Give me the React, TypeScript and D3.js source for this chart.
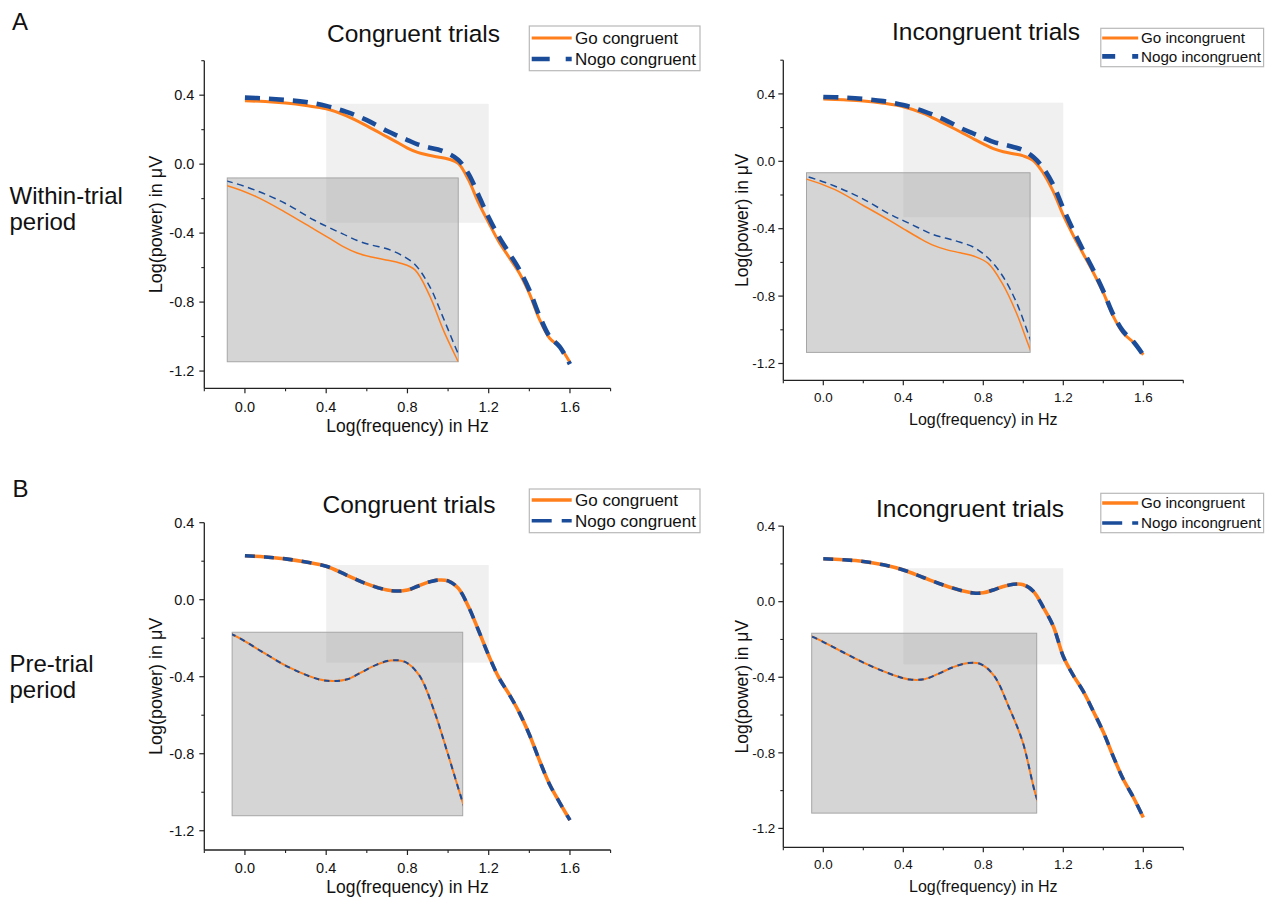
import React from "react";
import * as d3 from "d3";

// ---------------- DATA ----------------
const freqs = [0, 0.1, 0.2, 0.3, 0.4, 0.5, 0.6, 0.7, 0.75, 0.8, 0.85, 0.9, 0.95, 1.0, 1.05, 1.1, 1.15, 1.2, 1.25, 1.3, 1.35, 1.4, 1.45, 1.5, 1.55, 1.6];

const goCongWithin = [0.367, 0.363, 0.354, 0.34, 0.321, 0.28, 0.222, 0.158, 0.126, 0.093, 0.068, 0.053, 0.042, 0.03, 0.005, -0.09, -0.225, -0.34, -0.45, -0.54, -0.63, -0.75, -0.9, -1.01, -1.06, -1.15];
const nogoCongWithin = [0.386, 0.381, 0.372, 0.36, 0.338, 0.303, 0.255, 0.192, 0.165, 0.14, 0.115, 0.098, 0.085, 0.062, 0.025, -0.055, -0.18, -0.31, -0.42, -0.515, -0.61, -0.73, -0.88, -1.0, -1.06, -1.16];

const goIncWithin = [0.37, 0.365, 0.358, 0.345, 0.324, 0.285, 0.226, 0.166, 0.134, 0.103, 0.075, 0.057, 0.045, 0.032, 0.005, -0.07, -0.18, -0.32, -0.44, -0.55, -0.66, -0.78, -0.92, -1.02, -1.075, -1.148];
const nogoIncWithin = [0.382, 0.378, 0.37, 0.357, 0.334, 0.298, 0.25, 0.19, 0.165, 0.14, 0.115, 0.1, 0.085, 0.065, 0.025, -0.04, -0.14, -0.28, -0.41, -0.53, -0.645, -0.77, -0.91, -1.01, -1.07, -1.15];

const goCongPre = [0.228, 0.222, 0.212, 0.196, 0.174, 0.128, 0.082, 0.05, 0.045, 0.05, 0.07, 0.09, 0.102, 0.098, 0.06, -0.035, -0.16, -0.29, -0.405, -0.49, -0.585, -0.7, -0.835, -0.96, -1.055, -1.145];
const nogoCongPre = [0.228, 0.222, 0.212, 0.196, 0.174, 0.128, 0.082, 0.05, 0.045, 0.05, 0.07, 0.09, 0.102, 0.098, 0.06, -0.035, -0.16, -0.29, -0.405, -0.49, -0.585, -0.7, -0.835, -0.96, -1.055, -1.145];

const goIncPre = [0.227, 0.222, 0.213, 0.195, 0.168, 0.128, 0.088, 0.056, 0.046, 0.047, 0.062, 0.08, 0.092, 0.09, 0.055, -0.03, -0.13, -0.29, -0.39, -0.475, -0.58, -0.69, -0.82, -0.94, -1.035, -1.142];
const nogoIncPre = [0.227, 0.222, 0.213, 0.195, 0.168, 0.128, 0.088, 0.056, 0.046, 0.047, 0.062, 0.08, 0.092, 0.09, 0.055, -0.03, -0.13, -0.29, -0.39, -0.475, -0.58, -0.69, -0.82, -0.94, -1.035, -1.142];

const xMajorTicks = [0, 0.4, 0.8, 1.2, 1.6];
const xMinorTicks = [-0.2, 0.2, 0.6, 1.0, 1.4, 1.8];
const yMajorTicks = [0.4, 0, -0.4, -0.8, -1.2];
const yMinorTicksWithin = [0.6, 0.2, -0.2, -0.6, -1.0];
const yMinorTicksPre = [0.2, -0.2, -0.6, -1.0];

const xDomain = [-0.2, 1.8];
const yDomainWithin = [-1.3, 0.6];
const yDomainPre = [-1.3, 0.4];
const zoomXRange = [0.4, 1.2];

const titles = ["Congruent trials", "Incongruent trials", "Congruent trials", "Incongruent trials"];
const legendGo = ["Go congruent", "Go incongruent", "Go congruent", "Go incongruent"];
const legendNogo = ["Nogo congruent", "Nogo incongruent", "Nogo congruent", "Nogo incongruent"];
const xAxisTitle = "Log(frequency) in Hz";
const yAxisTitle = "Log(power) in μV";

// ---------------- STYLE ----------------
const ORANGE = "#FF7F1C";
const BLUE = "#1A4C9A";
const FONT = "'Liberation Sans', Arial, Helvetica, sans-serif";

type Cfg = {
  go: number[];
  nogo: number[];
  title: string;
  legGo: string;
  legNogo: string;
  left: number; right: number; top: number; bottom: number;
  yDomain: number[];
  yMinor: number[];
  zoomY: number[];
  insetX: number[];
  insetY: number[];
  titleX: number; titleY: number; titleSize: number;
  leg: { x: number; y: number; w: number; h: number; font: number; rows: number[]; lx1: number; lx2: number; tx: number; dash: string };
  tickFont: number; tickGap: number; tickOff: number;
  xLabFont: number; xLabOff: number; yLabFont: number; yLabX: number;
  goW: number; nogoW: number; nogoDash: string; inW: number; inDash: string;
  id: string;
};

const fmt = (v: number) => (Math.abs(v) < 1e-9 ? "0.0" : v.toFixed(1));

function Panel({ c }: { c: Cfg }) {
  const x = d3.scaleLinear().domain(xDomain).range([c.left, c.right]);
  const y = d3.scaleLinear().domain(c.yDomain).range([c.bottom, c.top]);
  const ix = d3.scaleLinear().domain(zoomXRange).range([x(c.insetX[0]), x(c.insetX[1])]);
  const iy = d3.scaleLinear().domain(c.zoomY).range([y(c.insetY[0]), y(c.insetY[1])]);
  const pts = (vals: number[]) => freqs.map((f, i) => [f, vals[i]] as [number, number]);
  const curve = d3.curveCatmullRom.alpha(0.5);
  const line = d3.line<[number, number]>().x((d) => x(d[0])).y((d) => y(d[1])).curve(curve);
  const iline = d3.line<[number, number]>().x((d) => ix(d[0])).y((d) => iy(d[1])).curve(curve);

  const lrX = x(zoomXRange[0]);
  const lrW = x(zoomXRange[1]) - lrX;
  const lrY = y(c.zoomY[1]);
  const lrH = y(c.zoomY[0]) - lrY;

  const inX = x(c.insetX[0]);
  const inW = x(c.insetX[1]) - inX;
  const inY = y(c.insetY[1]);
  const inH = y(c.insetY[0]) - inY;

  const yCenter = (c.top + c.bottom) / 2;
  const xCenter = (c.left + c.right) / 2;

  return (
    <g>
      <defs>
        <clipPath id={`clip-${c.id}`}>
          <rect x={inX} y={inY} width={inW} height={inH} />
        </clipPath>
      </defs>
      {/* zoom highlight */}
      <rect x={lrX} y={lrY} width={lrW} height={lrH} fill="#f0f0f0" />
      {/* inset */}
      <rect x={inX} y={inY} width={inW} height={inH} fill="#9a9a9a" fillOpacity={0.42} stroke="#a6a6a6" strokeWidth={1} />
      <g clipPath={`url(#clip-${c.id})`}>
        <path d={iline(pts(c.go)) || ""} fill="none" stroke={ORANGE} strokeWidth={c.inW} />
        <path d={iline(pts(c.nogo)) || ""} fill="none" stroke={BLUE} strokeWidth={c.inW} strokeDasharray={c.inDash} />
      </g>
      {/* main curves */}
      <path d={line(pts(c.go)) || ""} fill="none" stroke={ORANGE} strokeWidth={c.goW} strokeLinecap="butt" />
      <path d={line(pts(c.nogo)) || ""} fill="none" stroke={BLUE} strokeWidth={c.nogoW} strokeDasharray={c.nogoDash} />

      {/* axes */}
      <line x1={c.left} x2={c.right} y1={c.bottom} y2={c.bottom} stroke="#222" strokeWidth={1.3} />
      <line x1={c.left} x2={c.left} y1={c.top} y2={c.bottom} stroke="#222" strokeWidth={1.3} />
      {xMajorTicks.map((t) => (
        <g key={`xm${t}`}>
          <line x1={x(t)} x2={x(t)} y1={c.bottom} y2={c.bottom + 5} stroke="#222" strokeWidth={1.2} />
          <text x={x(t)} y={c.bottom + c.tickOff} textAnchor="middle" fontSize={c.tickFont} fontFamily={FONT} fill="#111">
            {fmt(t)}
          </text>
        </g>
      ))}
      {xMinorTicks.map((t) => (
        <line key={`xn${t}`} x1={x(t)} x2={x(t)} y1={c.bottom} y2={c.bottom + 3} stroke="#222" strokeWidth={1.1} />
      ))}
      {yMajorTicks.map((t) => (
        <g key={`ym${t}`}>
          <line x1={c.left - 5} x2={c.left} y1={y(t)} y2={y(t)} stroke="#222" strokeWidth={1.2} />
          <text x={c.left - c.tickGap} y={y(t)} dy="0.35em" textAnchor="end" fontSize={c.tickFont} fontFamily={FONT} fill="#111">
            {fmt(t)}
          </text>
        </g>
      ))}
      {c.yMinor.map((t) => (
        <line key={`yn${t}`} x1={c.left - 3} x2={c.left} y1={y(t)} y2={y(t)} stroke="#222" strokeWidth={1.1} />
      ))}
      <text x={xCenter} y={c.bottom + c.xLabOff} textAnchor="middle" fontSize={c.xLabFont} fontFamily={FONT} fill="#111">
        {xAxisTitle}
      </text>
      <text
        transform={`translate(${c.yLabX},${yCenter}) rotate(-90)`}
        textAnchor="middle"
        dominantBaseline="central"
        fontSize={c.yLabFont}
        fontFamily={FONT}
        fill="#111"
      >
        {yAxisTitle}
      </text>

      {/* title */}
      <text x={c.titleX} y={c.titleY} textAnchor="middle" fontSize={c.titleSize} fontFamily={FONT} fill="#111">
        {c.title}
      </text>

      {/* legend */}
      <rect x={c.leg.x} y={c.leg.y} width={c.leg.w} height={c.leg.h} fill="#fff" stroke="#b8b8b8" strokeWidth={1.2} />
      <line x1={c.leg.lx1} x2={c.leg.lx2} y1={c.leg.rows[0] - c.leg.font * 0.35} y2={c.leg.rows[0] - c.leg.font * 0.35} stroke={ORANGE} strokeWidth={c.goW} />
      <text x={c.leg.tx} y={c.leg.rows[0]} fontSize={c.leg.font} fontFamily={FONT} fill="#111">
        {c.legGo}
      </text>
      <line x1={c.leg.lx1} x2={c.leg.lx2} y1={c.leg.rows[1] - c.leg.font * 0.35} y2={c.leg.rows[1] - c.leg.font * 0.35} stroke={BLUE} strokeWidth={c.nogoW} strokeDasharray={c.leg.dash} />
      <text x={c.leg.tx} y={c.leg.rows[1]} fontSize={c.leg.font} fontFamily={FONT} fill="#111">
        {c.legNogo}
      </text>
    </g>
  );
}

const leftGeom = { left: 204.3, right: 610.6, tickFont: 14.5, tickGap: 10, tickOff: 23.4, xLabFont: 17.5, xLabOff: 43.4, yLabFont: 18, yLabX: 156 };
const rightGeom = { left: 783.3, right: 1183.3, tickFont: 13.4, tickGap: 8, tickOff: 21.3, xLabFont: 16, xLabOff: 44.6, yLabFont: 17.5, yLabX: 741.7 };
const withinStyle = { goW: 3, nogoW: 4.6, nogoDash: "15 9", inW: 1.5, inDash: "7 4.5" };
const preStyle = { goW: 3.6, nogoW: 3.6, nogoDash: "10 9", inW: 2, inDash: "5.5 5" };

const panels: Cfg[] = [
  {
    id: "a1", go: goCongWithin, nogo: nogoCongWithin, title: titles[0], legGo: legendGo[0], legNogo: legendNogo[0],
    ...leftGeom, top: 60.7, bottom: 388.3, yDomain: yDomainWithin, yMinor: yMinorTicksWithin,
    zoomY: [-0.34, 0.35], insetX: [-0.087, 1.05], insetY: [-1.146, -0.08],
    titleX: 413.5, titleY: 41.7, titleSize: 24.5,
    leg: { x: 529.3, y: 26, w: 170.7, h: 44.7, font: 17, rows: [44, 65], lx1: 531.7, lx2: 571.7, tx: 575, dash: "18 16" },
    ...withinStyle,
  },
  {
    id: "a2", go: goIncWithin, nogo: nogoIncWithin, title: titles[1], legGo: legendGo[1], legNogo: legendNogo[1],
    ...rightGeom, top: 60.2, bottom: 380.35, yDomain: yDomainWithin, yMinor: yMinorTicksWithin,
    zoomY: [-0.332, 0.348], insetX: [-0.084, 1.034], insetY: [-1.134, -0.068],
    titleX: 986, titleY: 40, titleSize: 24.5,
    leg: { x: 1100.8, y: 28.3, w: 162.8, h: 38.4, font: 15.2, rows: [43.3, 61.7], lx1: 1102.2, lx2: 1138.2, tx: 1141, dash: "13 17" },
    ...withinStyle,
  },
  {
    id: "b1", go: goCongPre, nogo: nogoCongPre, title: titles[2], legGo: legendGo[2], legNogo: legendNogo[2],
    ...leftGeom, top: 522.7, bottom: 850, yDomain: yDomainPre, yMinor: yMinorTicksPre,
    zoomY: [-0.327, 0.18], insetX: [-0.063, 1.072], insetY: [-1.122, -0.169],
    titleX: 409, titleY: 513.3, titleSize: 24.5,
    leg: { x: 529.3, y: 489, w: 170.7, h: 43.7, font: 17, rows: [506, 526.7], lx1: 531.7, lx2: 571.7, tx: 575, dash: "20 10" },
    ...preStyle,
  },
  {
    id: "b2", go: goIncPre, nogo: nogoIncPre, title: titles[3], legGo: legendGo[3], legNogo: legendNogo[3],
    ...rightGeom, top: 526.1, bottom: 847.3, yDomain: yDomainPre, yMinor: yMinorTicksPre,
    zoomY: [-0.332, 0.177], insetX: [-0.058, 1.067], insetY: [-1.119, -0.167],
    titleX: 970, titleY: 517.3, titleSize: 24.5,
    leg: { x: 1100.8, y: 493.3, w: 162.8, h: 39.4, font: 15.2, rows: [508.3, 528.3], lx1: 1102.2, lx2: 1138.2, tx: 1141, dash: "20 10" },
    ...preStyle,
  },
];

export default function App() {
  return (
    <svg
      width={1272}
      height={904}
      viewBox="0 0 1272 904"
      style={{ position: "absolute", left: 0, top: 0, display: "block", background: "#fff" }}
    >
      <rect x={0} y={0} width={1272} height={904} fill="#fff" />
      <text x={12} y={30} fontSize={24} fontFamily={FONT} fill="#111">A</text>
      <text x={9.5} y={204} fontSize={24} fontFamily={FONT} fill="#111">Within-trial</text>
      <text x={9.5} y={230} fontSize={24} fontFamily={FONT} fill="#111">period</text>
      <text x={12.5} y={496.7} fontSize={24} fontFamily={FONT} fill="#111">B</text>
      <text x={9.5} y={671.7} fontSize={24} fontFamily={FONT} fill="#111">Pre-trial</text>
      <text x={9.5} y={697.5} fontSize={24} fontFamily={FONT} fill="#111">period</text>
      {panels.map((p) => (
        <Panel key={p.id} c={p} />
      ))}
    </svg>
  );
}
